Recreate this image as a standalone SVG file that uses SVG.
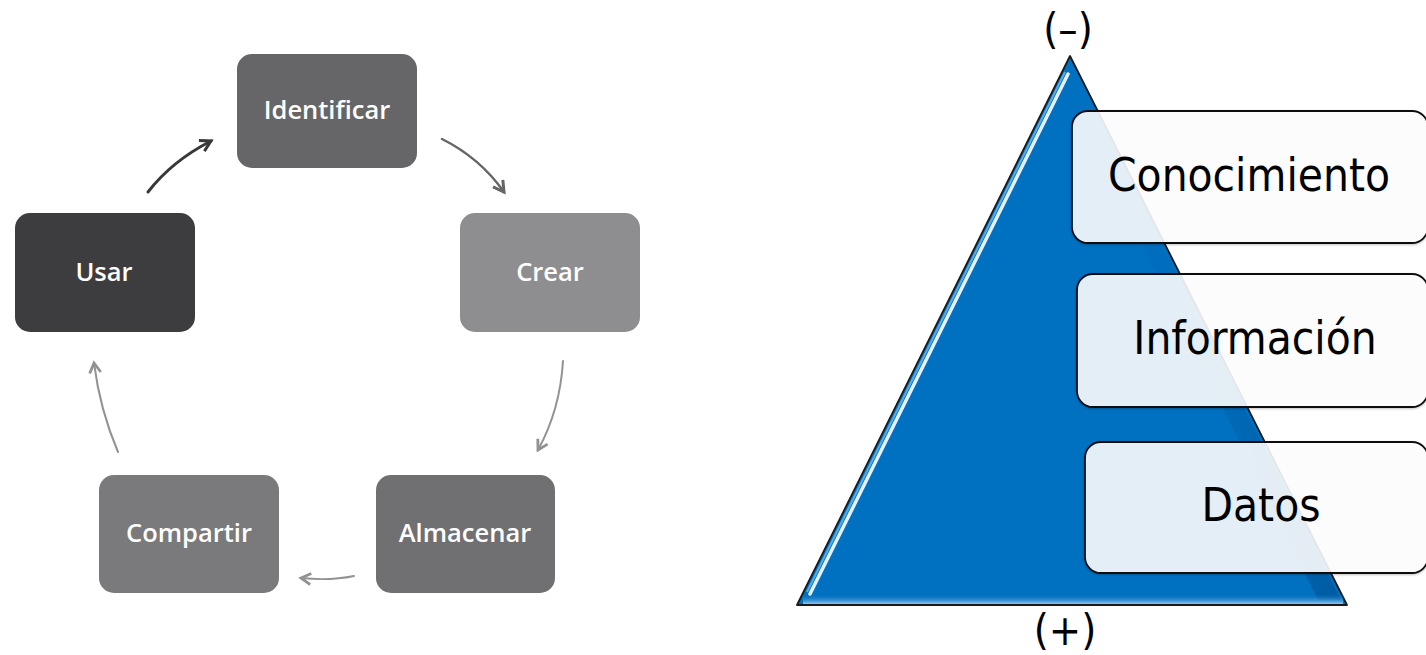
<svg xmlns="http://www.w3.org/2000/svg" width="1426" height="655" viewBox="0 0 1426 655">
<style>
.box{stroke:none}
.lbl{font-family:"Open Sans","Liberation Sans",sans-serif;font-weight:600;font-size:25.5px;fill:#ffffff;text-anchor:middle}
.arr{fill:none;stroke-linecap:round}
.pbox{fill:#ffffff;fill-opacity:0.88;stroke:#111;stroke-width:1.8}
.plbl{font-family:"DejaVu Sans Condensed","DejaVu Sans",sans-serif;font-stretch:condensed;font-size:45.5px;fill:#000;text-anchor:middle}
.sign{font-family:"DejaVu Sans Condensed","DejaVu Sans",sans-serif;font-size:43px;fill:#000;text-anchor:middle}
</style>
<defs>
<marker id="mDark" viewBox="0 0 10 10" refX="8" refY="5" markerWidth="5" markerHeight="5" orient="auto" markerUnits="strokeWidth">
<path d="M1,1 L8,5 L1,9" fill="none" stroke="#383838" stroke-width="2"/>
</marker>
<marker id="mMid" viewBox="0 0 10 10" refX="8" refY="5" markerWidth="6" markerHeight="6" orient="auto" markerUnits="strokeWidth">
<path d="M1,1 L8,5 L1,9" fill="none" stroke="#666" stroke-width="2"/>
</marker>
<marker id="mLight" viewBox="0 0 10 10" refX="8" refY="5" markerWidth="7" markerHeight="7" orient="auto" markerUnits="strokeWidth">
<path d="M1,1 L8,5 L1,9" fill="none" stroke="#929292" stroke-width="2"/>
</marker>
<linearGradient id="gRight" x1="0" y1="0" x2="1" y2="0">
<stop offset="0" stop-color="#0070c0" stop-opacity="0"/>
<stop offset="1" stop-color="#004a8c" stop-opacity="0.55"/>
</linearGradient>
<linearGradient id="gBottom" x1="0" y1="0" x2="0" y2="1">
<stop offset="0" stop-color="#0070c0" stop-opacity="0"/>
<stop offset="1" stop-color="#9fd0f5" stop-opacity="0.9"/>
</linearGradient>
<filter id="sh" x="-10%" y="-10%" width="120%" height="120%">
<feDropShadow dx="0" dy="1" stdDeviation="1" flood-color="#000" flood-opacity="0.25"/>
</filter>
</defs>

<!-- Left: cycle -->
<g id="identificar">
<rect class="box" x="237" y="54" width="180" height="114" rx="15" fill="#666668"/>
<text class="lbl" x="327" y="119">Identificar</text>
</g>
<g id="usar">
<rect class="box" x="15" y="213" width="180" height="119" rx="15" fill="#3d3d3f"/>
<text class="lbl" x="104" y="281">Usar</text>
</g>
<g id="crear">
<rect class="box" x="460" y="213" width="180" height="119" rx="15" fill="#8e8e90"/>
<text class="lbl" x="550" y="281">Crear</text>
</g>
<g id="almacenar">
<rect class="box" x="376" y="475" width="179" height="118" rx="15" fill="#707072"/>
<text class="lbl" x="465" y="542">Almacenar</text>
</g>
<g id="compartir">
<rect class="box" x="99" y="475" width="180" height="118" rx="15" fill="#7a7a7c"/>
<text class="lbl" x="189" y="542">Compartir</text>
</g>

<g id="connectors">
<path class="arr" d="M148,192 Q172,161 211,141" stroke="#383838" stroke-width="3" marker-end="url(#mDark)"/>
<path class="arr" d="M442,139 Q480,158 504,192" stroke="#666" stroke-width="2.5" marker-end="url(#mMid)"/>
<path class="arr" d="M563,361 Q560,410 538,450" stroke="#929292" stroke-width="2" marker-end="url(#mLight)"/>
<path class="arr" d="M354,576 Q330,581 301,578" stroke="#929292" stroke-width="2" marker-end="url(#mLight)"/>
<path class="arr" d="M118,452 Q100,410 94,363" stroke="#929292" stroke-width="2" marker-end="url(#mLight)"/>
</g>

<!-- Right: pyramid -->
<g id="piramide">
<polygon points="1070,56 1347,605 797,605" fill="#0070c0" stroke="#1a1a1a" stroke-width="1.8" stroke-linejoin="round"/>
<polygon points="1070,62 1341,600 1318,600 1070,100" fill="url(#gRight)"/>
<rect x="803" y="594" width="540" height="10" fill="url(#gBottom)"/>
<line x1="1068" y1="74" x2="810" y2="594" stroke="#ffffff" stroke-width="3.5" stroke-linecap="round" opacity="0.9"/>
<line x1="1065" y1="72" x2="807" y2="592" stroke="#7cc4f5" stroke-width="2" opacity="0.7"/>
</g>
<g id="signo-menos">
<text class="sign" x="1068" y="44">(–)</text>
</g>
<g id="signo-mas">
<text class="sign" x="1065" y="645">(+)</text>
</g>
<g id="conocimiento">
<rect class="pbox" x="1072" y="111" width="356" height="132" rx="16" filter="url(#sh)"/>
<text class="plbl" x="1249" y="191">Conocimiento</text>
</g>
<g id="informacion">
<rect class="pbox" x="1077" y="274" width="351" height="133" rx="16" filter="url(#sh)"/>
<text class="plbl" x="1255" y="354">Información</text>
</g>
<g id="datos">
<rect class="pbox" x="1085" y="442" width="343" height="131" rx="16" filter="url(#sh)"/>
<text class="plbl" x="1261" y="521">Datos</text>
</g>
</svg>
